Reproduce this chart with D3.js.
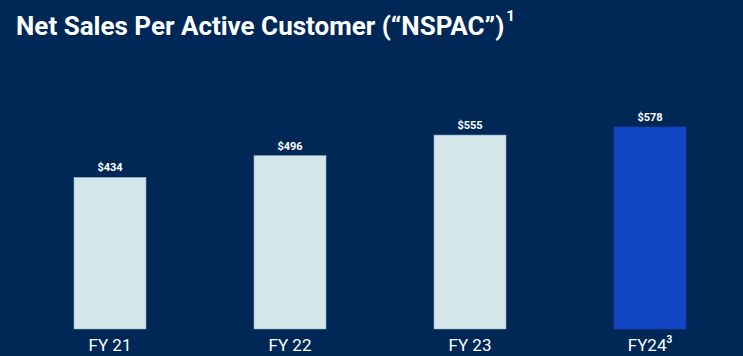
<!DOCTYPE html>
<html>
<head>
<meta charset="utf-8">
<script src="https://cdn.jsdelivr.net/npm/d3@7"></script>
<style>
    body { margin: 0; background: #002856; }
    svg { display: block; font-family: Roboto, "Noto Sans", sans-serif; }
</style>
</head>
<body>
<div id="chart"></div>
<script>
// Chart data
let categories = ["FY 21", "FY 22", "FY 23", "FY24"];
let values = [434, 496, 555, 578];
let valueLabels = ["$434", "$496", "$555", "$578"];
let superscripts = ["", "", "", "3"];

let width = 743, height = 356;
let margin = {left: 20, right: 3, bottom: 27};

let svg = d3.select("#chart").append("svg")
    .attr("width", width)
    .attr("height", height);

svg.append("rect")
    .attr("width", width)
    .attr("height", height)
    .attr("fill", "#002856");

// Title
let title = svg.append("text")
    .attr("x", 16)
    .attr("y", 35)
    .attr("fill", "#ffffff")
    .style("font-size", "26px")
    .style("font-weight", "700")
    .text("Net Sales Per Active Customer (“NSPAC”)");

title.append("tspan")
    .attr("dx", 2)
    .attr("dy", -14)
    .style("font-size", "15px")
    .text("1");

// Scales
let xScale = d3.scaleBand()
    .domain(categories)
    .range([margin.left, width - margin.right])
    .paddingInner(0.6)
    .paddingOuter(0.3);

let yScale = d3.scaleLinear()
    .domain([0, 578])
    .range([height - margin.bottom, height - margin.bottom - 202]);

// Bars
svg.selectAll(".bar")
    .data(values)
    .enter().append("rect")
    .attr("class", "bar")
    .attr("x", (d, i) => xScale(categories[i]))
    .attr("y", d => yScale(d))
    .attr("width", xScale.bandwidth())
    .attr("height", d => yScale(0) - yScale(d))
    .attr("fill", (d, i) => i == 3 ? "#1246c4" : "#d3e6ea")
    .attr("stroke", (d, i) => i == 3 ? "#1a3e9e" : "#8fa9bd")
    .attr("stroke-width", 0.6);

// Value labels
svg.selectAll(".value-label")
    .data(values)
    .enter().append("text")
    .attr("class", "value-label")
    .attr("x", (d, i) => xScale(categories[i]) + xScale.bandwidth() / 2)
    .attr("y", d => yScale(d) - 6)
    .attr("text-anchor", "middle")
    .attr("fill", "#ffffff")
    .style("font-size", "11px")
    .style("font-weight", "700")
    .text((d, i) => valueLabels[i]);

// X axis
let xAxis = d3.axisBottom(xScale).tickSize(0).tickPadding(10);

let axisG = svg.append("g")
    .attr("transform", `translate(0, ${yScale(0)})`)
    .call(xAxis);

axisG.select(".domain").remove();

axisG.selectAll("text")
    .attr("fill", "#ffffff")
    .style("font-size", "17px")
    .style("font-family", "Roboto, sans-serif")
    .each(function(d, i) {
        if (superscripts[i]) {
            d3.select(this).append("tspan")
                .attr("dy", -8)
                .style("font-size", "10px")
                .style("font-weight", "700")
                .text(superscripts[i]);
        }
    });
</script>
</body>
</html>
